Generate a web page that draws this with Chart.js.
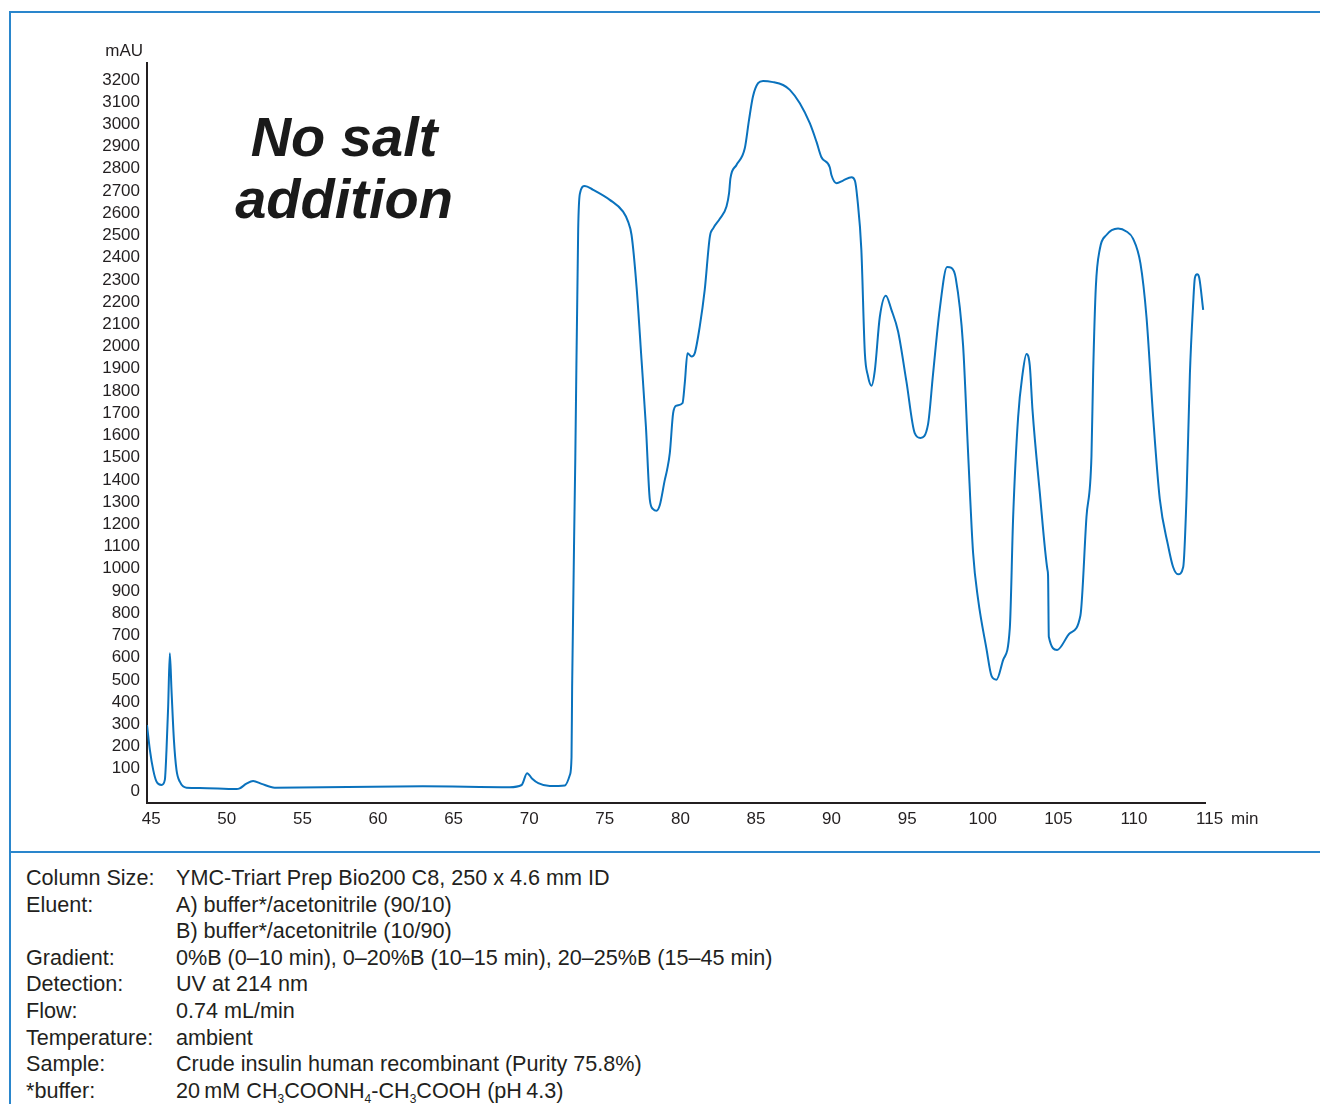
<!DOCTYPE html>
<html>
<head>
<meta charset="utf-8">
<script src="https://cdn.jsdelivr.net/npm/chart.js@4.4.1/dist/chart.umd.min.js"></script>
<style>
  body { margin: 0; background: #fff; font-family: "Liberation Sans", Arial, sans-serif; color: #231f20; }
  #page { position: relative; width: 1320px; height: 1104px; overflow: hidden; }
  #chartBox { position: absolute; left: 0; top: 0; width: 1320px; height: 852px; }
  .frame { position: absolute; background: #2a86cc; }
  .lbl { position: absolute; font-size: 17px; line-height: 20px; }
  .title { position: absolute; left: 144px; width: 400px; text-align: center; font-weight: bold; font-style: italic; font-size: 56px; line-height: 62px; top: 106px; color: #1a1a1a; }
  .info { position: absolute; left: 26px; top: 865px; font-size: 21.6px; line-height: 26.6px; }
  .info .row { position: relative; height: 26.6px; white-space: nowrap; }
  .info .k { position: absolute; left: 0; }
  .info .v { position: absolute; left: 150px; }
  .info sub { font-size: 12px; vertical-align: -5px; line-height: 0; }
</style>
</head>
<body>
<div id="page">
  <div id="chartBox"><canvas id="chromChart" width="1320" height="852"></canvas></div>
  <div class="frame" style="left:10px; top:11px; width:1310px; height:2px;"></div>
  <div class="frame" style="left:9px; top:11px; width:2px; height:1093px;"></div>
  <div class="frame" style="left:10px; top:851px; width:1310px; height:2px;"></div>
  <div class="lbl" style="left:0; width:143px; text-align:right; top:41px;">mAU</div>
  <div class="lbl" style="left:1231px; top:809px;">min</div>
  <div class="title">No salt<br>addition</div>
  <div class="info">
    <div class="row"><span class="k">Column Size:</span><span class="v">YMC-Triart Prep Bio200 C8, 250 x 4.6 mm ID</span></div>
    <div class="row"><span class="k">Eluent:</span><span class="v">A) buffer*/acetonitrile (90/10)</span></div>
    <div class="row"><span class="k"></span><span class="v">B) buffer*/acetonitrile (10/90)</span></div>
    <div class="row"><span class="k">Gradient:</span><span class="v">0%B (0–10 min), 0–20%B (10–15 min), 20–25%B (15–45 min)</span></div>
    <div class="row"><span class="k">Detection:</span><span class="v">UV at 214 nm</span></div>
    <div class="row"><span class="k">Flow:</span><span class="v">0.74 mL/min</span></div>
    <div class="row"><span class="k">Temperature:</span><span class="v">ambient</span></div>
    <div class="row"><span class="k">Sample:</span><span class="v">Crude insulin human recombinant (Purity 75.8%)</span></div>
    <div class="row"><span class="k">*buffer:</span><span class="v">20&#8201;mM CH<sub>3</sub>COONH<sub>4</sub>-CH<sub>3</sub>COOH (pH&#8201;4.3)</span></div>
  </div>
</div>
<script>
// retention time (min) and absorbance (mAU)
const retentionTime = [
  44.72, 44.91, 45.13, 45.35, 45.68, 45.9, 46.01, 46.12, 46.23, 46.34, 46.5, 46.67, 46.89, 47.33, 48.2,
  50.64, 50.85, 51.3, 51.74, 52.3, 53.17, 58.0, 62.96, 68.7, 69.5, 69.86, 70.2, 70.6, 71.36, 72.36,
  72.69, 72.8, 72.84, 73.05, 73.24, 73.35, 73.68, 74.23, 75.33, 76.21, 76.54, 76.77, 77.1, 77.43, 77.72,
  77.98, 78.2, 78.42, 78.64, 78.97, 79.12, 79.3, 79.52, 79.74, 80.14, 80.29, 80.47, 80.74, 80.95, 81.28,
  81.61, 81.95, 82.17, 82.61, 83.05, 83.22, 83.31, 83.71, 84.26, 84.54, 84.8, 85.14, 85.47, 86.13, 86.79,
  87.24, 87.9, 88.56, 89.0, 89.33, 89.88, 89.99, 90.33, 90.76, 91.32, 91.55, 91.7, 91.97, 92.2, 92.4,
  92.64, 92.86, 93.19, 93.59, 93.96, 94.4, 94.95, 95.5, 95.88, 96.38, 96.71, 97.15, 97.64, 97.93, 98.21,
  98.7, 99.03, 99.36, 99.69, 100.25, 100.58, 100.91, 101.35, 101.79, 102.01, 102.34, 102.63, 102.89, 103.11, 103.29,
  103.77, 104.28, 104.32, 104.37, 104.92, 105.76, 106.46, 106.86, 107.19, 107.3, 107.48, 107.74, 108.18, 108.95, 109.5,
  109.94, 110.43, 110.83, 111.27, 111.71, 112.26, 112.59, 112.92, 113.26, 113.48, 113.7, 113.92, 114.03, 114.18, 114.32,
  114.58
];
const absorbance = [
  297, 185, 95, 42, 27, 50, 185, 380, 620, 455, 230, 95, 42, 15, 14,
  9, 12, 33, 45, 32, 15, 18, 21, 17, 27, 80, 55, 35, 22, 25,
  72, 153, 470, 1500, 2527, 2687, 2723, 2705, 2660, 2607, 2562, 2502, 2270, 1940, 1640,
  1310, 1268, 1261, 1287, 1400, 1445, 1520, 1700, 1734, 1745, 1835, 1970, 1955, 1970, 2090,
  2255, 2495, 2532, 2575, 2630, 2690, 2757, 2817, 2892, 3020, 3125, 3185, 3195, 3190, 3177,
  3155, 3095, 3005, 2922, 2852, 2807, 2772, 2735, 2747, 2762, 2745, 2670, 2435, 1972, 1870,
  1824, 1892, 2133, 2229, 2165, 2068, 1843, 1610, 1589, 1650, 1875, 2165, 2358, 2354, 2309,
  2004, 1522, 1072, 863, 638, 518, 501, 590, 734, 1233, 1683, 1875, 1967, 1915, 1715,
  1345, 995, 968, 694, 635, 710, 790, 1233, 1506, 1875, 2269, 2438, 2502, 2531, 2518,
  2486, 2374, 2133, 1683, 1313, 1104, 1008, 975, 1008, 1329, 1875, 2197, 2309, 2325, 2309,
  2165
];
const xTicks = [45, 50, 55, 60, 65, 70, 75, 80, 85, 90, 95, 100, 105, 110, 115];
const yTicks = [0, 100, 200, 300, 400, 500, 600, 700, 800, 900, 1000, 1100, 1200, 1300, 1400, 1500,
  1600, 1700, 1800, 1900, 2000, 2100, 2200, 2300, 2400, 2500, 2600, 2700, 2800, 2900, 3000, 3100, 3200];

const tickFont = { family: '"Liberation Sans", Arial, sans-serif', size: 17 };

new Chart(document.getElementById('chromChart').getContext('2d'), {
  type: 'line',
  data: {
    datasets: [{
      data: retentionTime.map((t, i) => ({ x: t, y: absorbance[i] })),
      borderColor: '#0a72bd',
      borderWidth: 2,
      pointRadius: 0,
      fill: false,
      cubicInterpolationMode: 'monotone'
    }]
  },
  options: {
    responsive: false,
    animation: false,
    layout: { padding: { left: 87, top: 63, right: 115, bottom: 19 } },
    plugins: { legend: { display: false }, tooltip: { enabled: false } },
    scales: {
      x: {
        type: 'linear',
        min: 44.72,
        max: 114.7,
        grid: { display: false, drawTicks: false },
        border: { display: true, color: '#231f20', width: 2 },
        afterBuildTicks: (scale) => { scale.ticks = xTicks.map(v => ({ value: v })); },
        afterFit: (scale) => { scale.height = 30; },
        ticks: { color: '#231f20', font: tickFont, padding: 6, autoSkip: false, maxRotation: 0,
                 callback: (v) => String(v) }
      },
      y: {
        min: -54,
        max: 3276,
        grid: { display: false, drawTicks: false },
        border: { display: true, color: '#231f20', width: 2 },
        afterBuildTicks: (scale) => { scale.ticks = yTicks.map(v => ({ value: v })); },
        afterFit: (scale) => { scale.width = 60; },
        ticks: { color: '#231f20', font: tickFont, padding: 7, autoSkip: false,
                 callback: (v) => String(v) }
      }
    }
  }
});
</script>
</body>
</html>
